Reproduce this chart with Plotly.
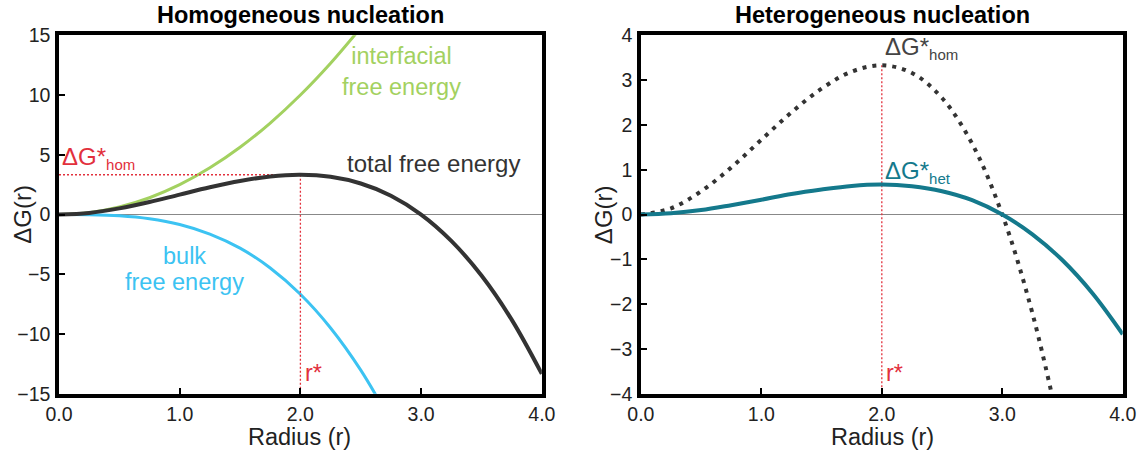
import plotly.graph_objects as go

# ---- data ----
radius = [0.0, 0.25, 0.5, 0.75, 1.0, 1.25, 1.5, 1.75, 2.0, 2.25, 2.5, 2.75, 3.0, 3.25, 3.5, 3.75, 4.0]
total_free_energy = [0.0, 0.14, 0.52, 1.05, 1.67, 2.28, 2.81, 3.19, 3.33, 3.16, 2.60, 1.58, 0.0, -2.20, -5.10, -8.79, -13.33]
interfacial_radius = [0.0, 0.25, 0.5, 0.75, 1.0, 1.25, 1.5, 1.75, 2.0, 2.25, 2.5]
interfacial_free_energy = [0.0, 0.16, 0.63, 1.41, 2.5, 3.91, 5.63, 7.66, 10.0, 12.66, 15.63]
bulk_radius = [0.0, 0.25, 0.5, 0.75, 1.0, 1.25, 1.5, 1.75, 2.0, 2.25, 2.5, 2.75]
bulk_free_energy = [0.0, -0.01, -0.10, -0.35, -0.83, -1.63, -2.81, -4.47, -6.67, -9.49, -13.02, -17.33]
hom_radius = [0.0, 0.25, 0.5, 0.75, 1.0, 1.25, 1.5, 1.75, 2.0, 2.25, 2.5, 2.75, 3.0, 3.25, 3.5]
hom_curve = [0.0, 0.14, 0.52, 1.05, 1.67, 2.28, 2.81, 3.19, 3.33, 3.16, 2.60, 1.58, 0.0, -2.20, -5.10]
het_curve = [0.0, 0.03, 0.10, 0.21, 0.33, 0.46, 0.56, 0.64, 0.67, 0.63, 0.52, 0.32, 0.0, -0.44, -1.02, -1.76, -2.67]
r_star = 2.0
dG_hom = 3.33
x_ticks = [0, 1, 2, 3, 4]
x_tick_text = ["0.0", "1.0", "2.0", "3.0", "4.0"]
y_ticks_left = [-15, -10, -5, 0, 5, 10, 15]
y_ticks_right = [-4, -3, -2, -1, 0, 1, 2, 3, 4]

GREEN = "#a3d160"
BLUE = "#3cc3f2"
DARK = "#333333"
TEAL = "#14798c"
RED = "#e2303c"
FONT = "Liberation Sans, Arial, Helvetica, sans-serif"

# the captured page comes out slightly shrunk and offset; map wanted pixel -> figure pixel
W, H = 1150, 470
AX, CX = 0.98, 9.0
AY, CY = 0.957, 9.0
def px(x):
    return (x / AX - CX) / W
def py(y):
    return 1 - (y / AY - CY) / H

fig = go.Figure()

# left panel
fig.add_trace(go.Scatter(x=interfacial_radius, y=interfacial_free_energy, mode="lines", line=dict(color=GREEN, width=3, shape="spline"), xaxis="x", yaxis="y"))
fig.add_trace(go.Scatter(x=bulk_radius, y=bulk_free_energy, mode="lines", line=dict(color=BLUE, width=3, shape="spline"), xaxis="x", yaxis="y"))
fig.add_trace(go.Scatter(x=[0, r_star], y=[dG_hom, dG_hom], mode="lines", line=dict(color=RED, width=1.3, dash="2px,2px"), xaxis="x", yaxis="y"))
fig.add_trace(go.Scatter(x=[r_star, r_star], y=[dG_hom, -15], mode="lines", line=dict(color=RED, width=1.3, dash="2px,2px"), xaxis="x", yaxis="y"))
fig.add_trace(go.Scatter(x=radius, y=total_free_energy, mode="lines", line=dict(color=DARK, width=4, shape="spline"), xaxis="x", yaxis="y"))

# right panel
fig.add_trace(go.Scatter(x=[r_star, r_star], y=[dG_hom, -4], mode="lines", line=dict(color=RED, width=1.3, dash="2px,2px"), xaxis="x2", yaxis="y2"))
fig.add_trace(go.Scatter(x=hom_radius, y=hom_curve, mode="lines", line=dict(color=DARK, width=4, dash="4px,6px", shape="spline"), xaxis="x2", yaxis="y2"))
fig.add_trace(go.Scatter(x=radius, y=het_curve, mode="lines", line=dict(color=TEAL, width=4, shape="spline"), xaxis="x2", yaxis="y2"))

axis_common = dict(
    showline=True, mirror=True, linecolor="black", linewidth=3.5,
    ticks="inside", ticklen=6, tickwidth=2, tickcolor="black",
    showgrid=False, tickfont=dict(family=FONT, size=19.5, color="#222"),
)

ydom = [py(393), py(33)]
fig.update_layout(
    width=W, height=H,
    margin=dict(l=0, r=0, t=0, b=0),
    plot_bgcolor="white", paper_bgcolor="white",
    showlegend=False,
    font=dict(family=FONT),
    xaxis=dict(domain=[px(54), px(539)], range=[0, 4], tickvals=x_ticks, ticktext=x_tick_text, zeroline=False, anchor="y", **axis_common),
    yaxis=dict(domain=ydom, range=[-15, 15], tickvals=y_ticks_left, zeroline=True, zerolinecolor="#888888", zerolinewidth=1, anchor="x", ticklabelstandoff=1, **axis_common),
    xaxis2=dict(domain=[px(638.5), px(1122.5)], range=[0, 4], tickvals=x_ticks, ticktext=x_tick_text, zeroline=False, anchor="y2", **axis_common),
    yaxis2=dict(domain=ydom, range=[-4, 4], tickvals=y_ticks_right, zeroline=True, zerolinecolor="#888888", zerolinewidth=1, anchor="x2", ticklabelstandoff=1, **axis_common),
)

ann = []
P = dict(xref="paper", yref="paper", showarrow=False, xanchor="center", yanchor="middle")
# titles
ann.append(dict(text="<b>Homogeneous nucleation</b>", x=px(297), y=py(13), font=dict(size=23.5, color="black"), **P))
ann.append(dict(text="<b>Heterogeneous nucleation</b>", x=px(881), y=py(13), font=dict(size=23.5, color="black"), **P))
# axis titles
for xc in [296, 881]:
    ann.append(dict(text="Radius (r)", x=px(xc), y=py(436), font=dict(size=23.5, color="#222"), **P))
for xc in [17, 601]:
    ann.append(dict(text="ΔG(r)", x=px(xc), y=py(213), textangle=-90, font=dict(size=24, color="#222"), **P))

def sub(s):
    return '<sub><span style="font-size:15px">' + s + '</span></sub>'

# left labels
ann.append(dict(text="interfacial<br>free energy", x=2.84, y=12.0, xref="x", yref="y", showarrow=False, font=dict(size=23.5, color=GREEN), align="center"))
ann.append(dict(text="total free energy", x=3.1, y=4.3, xref="x", yref="y", showarrow=False, font=dict(size=24, color=DARK)))
ann.append(dict(text="bulk", x=1.04, y=-3.5, xref="x", yref="y", showarrow=False, font=dict(size=23.5, color=BLUE)))
ann.append(dict(text="free energy", x=1.04, y=-5.6, xref="x", yref="y", showarrow=False, font=dict(size=23.5, color=BLUE)))
ann.append(dict(text="ΔG*" + sub("hom"), x=0.01, y=4.75, xref="x", yref="y", xanchor="left", showarrow=False, font=dict(size=24, color=RED)))
ann.append(dict(text="r*", x=2.02, y=-13.25, xref="x", yref="y", xanchor="left", showarrow=False, font=dict(size=23.5, color=RED)))
# right labels
ann.append(dict(text="ΔG*" + sub("hom"), x=2.01, y=3.72, xref="x2", yref="y2", xanchor="left", showarrow=False, font=dict(size=24, color="#444")))
ann.append(dict(text="ΔG*" + sub("het"), x=2.01, y=0.95, xref="x2", yref="y2", xanchor="left", showarrow=False, font=dict(size=24, color=TEAL)))
ann.append(dict(text="r*", x=2.02, y=-3.53, xref="x2", yref="y2", xanchor="left", showarrow=False, font=dict(size=23.5, color=RED)))
fig.update_layout(annotations=ann)

fig.write_html("out.html")
